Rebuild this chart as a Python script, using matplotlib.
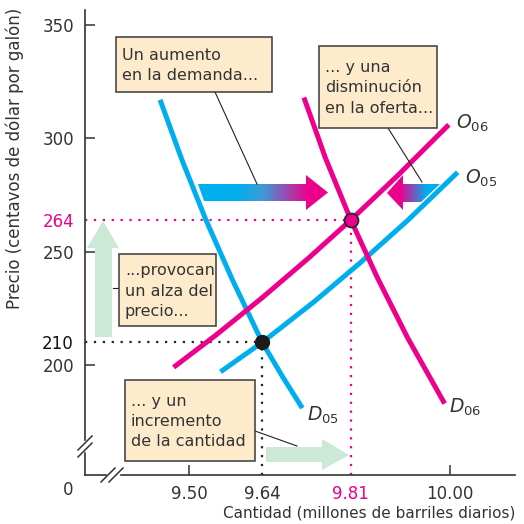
import numpy as np
import matplotlib
matplotlib.use("Agg")
import matplotlib.pyplot as plt
from matplotlib.patches import Polygon, Rectangle
from matplotlib.colors import LinearSegmentedColormap

# Curve data (quantity in millions of barrels/day, price in cents/gallon)
d05_q = [9.444, 9.486, 9.532, 9.583, 9.64, 9.68, 9.717]
d05_p = [317, 290.5, 264, 237.5, 210, 194.5, 181]
d06_q = [9.72, 9.761, 9.81, 9.861, 9.919, 9.99]
d06_p = [318, 291.5, 264, 238.5, 212, 183]
o05_q = [9.56, 9.64, 9.74, 9.83, 9.92, 10.015]
o05_p = [197, 210, 228, 245.5, 264, 285]
o06_q = [9.47, 9.55, 9.64, 9.73, 9.81, 9.90, 9.998]
o06_p = [199, 213, 229.7, 247.4, 264, 283.6, 306]

eq_05 = (9.64, 210)
eq_06 = (9.81, 264)

x_ticks = [9.50, 9.64, 9.81, 10.00]
x_labels = ["9.50", "9.64", "9.81", "10.00"]
y_ticks = [200, 210, 250, 264, 300, 350]
y_labels = ["200", "210", "250", "264", "300", "350"]

CYAN = "#00aeef"
MAG = "#ec008c"
GRAY = "#333333"
GREEN = "#cce8d7"
CREAM = "#fdebcc"

plt.rcParams["font.family"] = "DejaVu Sans"

fig = plt.figure(figsize=(5.24, 5.24), dpi=100)
ax = fig.add_axes([85 / 524, 49 / 524, 430 / 524, 465 / 524])
ax.set_xlim(9.30, 10.125)
ax.set_ylim(151.5, 356.6)

for s in ["top", "right"]:
    ax.spines[s].set_visible(False)
for s in ["left", "bottom"]:
    ax.spines[s].set_color(GRAY)
    ax.spines[s].set_linewidth(1.2)

ax.set_xticks(x_ticks, x_labels)
ax.set_yticks(y_ticks, y_labels)
ax.tick_params(direction="in", length=7, width=1.1, color=GRAY, labelsize=12,
               labelcolor=GRAY)
ax.tick_params(axis="y", pad=8)
ax.tick_params(axis="x", pad=7)
for t, v in zip(ax.xaxis.get_major_ticks(), x_ticks):
    if v in (9.64, 9.81):
        t.tick1line.set_visible(False)
for t, v in zip(ax.yaxis.get_major_ticks(), y_ticks):
    if v in (210, 264):
        t.tick1line.set_visible(False)
for lbl in ax.get_xticklabels():
    if lbl.get_text() == "9.81":
        lbl.set_color(MAG)
for lbl in ax.get_yticklabels():
    if lbl.get_text() == "264":
        lbl.set_color(MAG)
    elif lbl.get_text() == "210":
        lbl.set_color("#111111")

# dotted guides
x0, y0 = ax.get_xlim()[0], ax.get_ylim()[0]
ax.plot([x0, eq_05[0]], [eq_05[1], eq_05[1]], color="#222222", lw=1.6, ls=(0, (1, 3)))
ax.plot([eq_05[0], eq_05[0]], [y0, eq_05[1]], color="#222222", lw=1.6, ls=(0, (1, 3)))
ax.plot([x0, eq_06[0]], [eq_06[1], eq_06[1]], color=MAG, lw=1.6, ls=(0, (1, 3)))
ax.plot([eq_06[0], eq_06[0]], [y0, eq_06[1]], color=MAG, lw=1.6, ls=(0, (1, 3)))

# curves
kw = dict(lw=3.6, solid_capstyle="butt", solid_joinstyle="round")
ax.plot(d05_q, d05_p, color=CYAN, **kw)
ax.plot(o05_q, o05_p, color=CYAN, **kw)
ax.plot(d06_q, d06_p, color=MAG, **kw)
ax.plot(o06_q, o06_p, color=MAG, **kw)

ax.plot(*eq_05, "o", ms=10, color="#1a1a1a", zorder=5)
ax.plot(*eq_06, "o", ms=10, color=MAG, mec="#2a2a2a", mew=1.3, zorder=5)

# curve labels
lab = dict(fontsize=13.5, color=GRAY, va="center", ha="left")
ax.annotate(r"$\mathit{O}_{\mathrm{06}}$", (o06_q[-1], o06_p[-1]), xytext=(5, 1),
            textcoords="offset points", **lab)
ax.annotate(r"$\mathit{O}_{\mathrm{05}}$", (o05_q[-1], o05_p[-1]), xytext=(5, -4),
            textcoords="offset points", **lab)
ax.annotate(r"$\mathit{D}_{\mathrm{05}}$", (d05_q[-1], d05_p[-1]), xytext=(3, -5),
            textcoords="offset points", **lab)
ax.annotate(r"$\mathit{D}_{\mathrm{06}}$", (d06_q[-1], d06_p[-1]), xytext=(3, -3),
            textcoords="offset points", **lab)

ax.set_xlabel("Cantidad (millones de barriles diarios)", fontsize=11, color=GRAY)
ax.xaxis.set_label_coords(1.0, -0.066)
ax.xaxis.label.set_ha("right")
fig.text(15 / 524, 1 - 158 / 524, "Precio (centavos de dólar por galón)", rotation=90,
         fontsize=12, color=GRAY, ha="center", va="center")
fig.text(68 / 524, 1 - 490 / 524, "0", fontsize=12, color=GRAY, ha="center", va="center")

# overlay in pixel coordinates (y down) for annotation boxes and arrows
ov = fig.add_axes([0, 0, 1, 1], zorder=3)
ov.set_xlim(0, 524)
ov.set_ylim(524, 0)
ov.axis("off")

# axis breaks
ov.add_patch(Rectangle((80, 441), 10, 10, color="white", zorder=1))
ov.add_patch(Rectangle((107, 470), 12, 10, color="white", zorder=1))
for cx, cy in [(85, 443), (85, 450)]:
    ov.plot([cx - 7, cx + 7], [cy + 7, cy - 7], color=GRAY, lw=1.1, zorder=2)
for cx, cy in [(108, 475), (116, 475)]:
    ov.plot([cx - 7, cx + 7], [cy + 7, cy - 7], color=GRAY, lw=1.1, zorder=2)


def grad_arrow(pts, colors_lr):
    patch = Polygon(pts, closed=True, facecolor="none", edgecolor="none")
    ov.add_patch(patch)
    xs = [p[0] for p in pts]
    ys = [p[1] for p in pts]
    cmap = LinearSegmentedColormap.from_list("g", colors_lr)
    im = ov.imshow(np.linspace(0, 1, 256).reshape(1, -1), cmap=cmap, aspect="auto",
                   extent=[min(xs), max(xs), max(ys), min(ys)], zorder=2)
    im.set_clip_path(patch)


grad_arrow([(198, 184), (306, 184), (306, 175), (328, 192.5), (306, 210), (306, 201),
            (204, 201)],
           [(0, CYAN), (0.3, CYAN), (0.5, "#3f9bd6"), (0.85, MAG), (1, MAG)])
grad_arrow([(387, 193), (403, 175), (403, 184), (440, 184), (421, 202), (403, 202),
            (403, 210)],
           [(0, MAG), (0.25, MAG), (0.75, CYAN), (1, CYAN)])
ov.set_xlim(0, 524)
ov.set_ylim(524, 0)

ov.add_patch(Polygon([(95, 337), (95, 248), (87, 248), (103, 221), (119, 248), (112, 248),
                      (112, 337)], closed=True, color=GREEN, lw=0, zorder=2))
ov.add_patch(Polygon([(266, 447), (322, 447), (322, 439), (349, 455), (322, 470),
                      (322, 462), (266, 462)], closed=True, color=GREEN, lw=0, zorder=2))

# leader lines
for xs, ys in [([215, 257], [92, 184]), ([388, 422], [128, 182]), ([113, 119], [288, 288]),
               ([255, 297], [431, 446])]:
    ov.plot(xs, ys, color="#222222", lw=0.8, zorder=3)

boxes = [
    ((116, 37, 272, 92), "Un aumento\nen la demanda..."),
    ((319, 46, 437, 128), "... y una\ndisminución\nen la oferta..."),
    ((119, 254, 216, 326), "...provocan\nun alza del\nprecio..."),
    ((125, 380, 255, 461), "... y un\nincremento\nde la cantidad"),
]
for (bx0, by0, bx1, by1), txt in boxes:
    ov.add_patch(Rectangle((bx0, by0), bx1 - bx0, by1 - by0, facecolor=CREAM,
                           edgecolor="#3a3a3a", lw=1.1, zorder=4))
    ov.text(bx0 + 6, (by0 + by1) / 2 + 1, txt, fontsize=11.5, color=GRAY, ha="left",
            va="center", linespacing=1.45, zorder=5)

fig.savefig("out.png", dpi=100)
